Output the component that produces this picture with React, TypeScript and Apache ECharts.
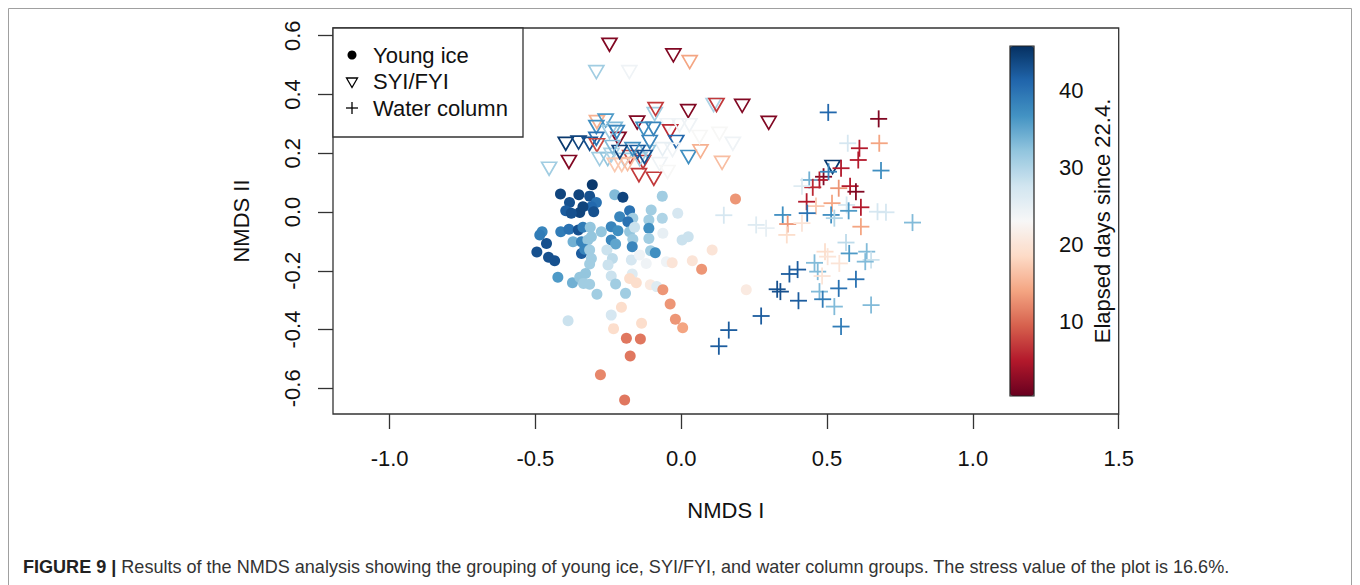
import { useEffect, useRef } from "react";
import * as echarts from "echarts";

const FONT = '"Liberation Sans", Arial, Helvetica, sans-serif';

// Axis ticks (NMDS I / NMDS II) and colour-bar ticks
const xTicks = [-1.0, -0.5, 0.0, 0.5, 1.0, 1.5];
const yTicks = [-0.6, -0.4, -0.2, 0.0, 0.2, 0.4, 0.6];
const dayTicks = [10, 20, 30, 40];
const dayRange = [0.4, 45.7];

// Visible plotting window of the ordination (data units)
const xWindow = [-1.194, 1.5];
const yWindow = [-0.6876, 0.6263];

// RdBu palette, low (red) to high (blue) elapsed days
const palette = [
  "#67001f", "#b2182b", "#d6604d", "#f4a582", "#fddbc7", "#f7f7f7",
  "#d1e5f0", "#92c5de", "#4393c3", "#2166ac", "#053061",
];

const groupNames = ["Young ice", "SYI/FYI", "Water column"];

// [NMDS I, NMDS II, elapsed days]
const youngIce: number[][] = [
  [-0.305, 0.093, 45], [-0.414, 0.061, 44], [-0.351, 0.059, 44], [-0.314, 0.054, 43],
  [-0.228, 0.059, 33], [-0.200, 0.050, 44], [-0.065, 0.054, 31], [-0.383, 0.032, 43],
  [-0.291, 0.032, 40], [-0.396, 0.004, 42], [-0.348, -0.002, 44], [-0.308, 0.018, 41],
  [-0.300, 0.001, 43], [-0.337, 0.018, 44], [-0.377, -0.004, 43], [-0.211, -0.016, 38],
  [-0.177, 0.004, 40], [-0.166, -0.021, 31], [-0.103, 0.007, 31], [-0.065, -0.021, 30],
  [-0.012, -0.004, 27], [-0.183, -0.033, 40], [-0.111, -0.027, 31], [-0.111, -0.055, 37],
  [-0.477, -0.067, 38], [-0.413, -0.067, 39], [-0.385, -0.059, 40], [-0.353, -0.061, 43],
  [-0.337, -0.052, 39], [-0.312, -0.052, 32], [-0.274, -0.067, 32], [-0.240, -0.050, 38],
  [-0.217, -0.064, 37], [-0.177, -0.067, 32], [-0.160, -0.052, 28], [-0.063, -0.072, 25],
  [-0.485, -0.078, 39], [-0.462, -0.107, 43], [-0.371, -0.101, 34], [-0.342, -0.101, 38],
  [-0.320, -0.095, 32], [-0.308, -0.084, 32], [-0.240, -0.095, 38], [-0.225, -0.109, 35],
  [-0.166, -0.093, 31], [-0.168, -0.118, 38], [-0.111, -0.090, 31], [0.003, -0.095, 28],
  [0.024, -0.084, 28], [-0.495, -0.136, 43], [-0.455, -0.154, 43], [-0.434, -0.166, 43],
  [-0.342, -0.141, 42], [-0.331, -0.127, 38], [-0.314, -0.129, 31], [-0.308, -0.158, 31],
  [-0.314, -0.177, 31], [-0.255, -0.129, 28], [-0.236, -0.158, 29], [-0.251, -0.180, 28],
  [-0.171, -0.163, 27], [-0.143, -0.146, 24], [-0.120, -0.175, 24], [-0.105, -0.132, 31],
  [-0.089, -0.139, 37], [-0.051, -0.169, 24], [-0.031, -0.173, 20], [0.038, -0.166, 20],
  [0.070, -0.195, 13], [0.106, -0.129, 20], [-0.423, -0.222, 36], [-0.373, -0.241, 34],
  [-0.348, -0.222, 32], [-0.328, -0.209, 32], [-0.335, -0.243, 31], [-0.314, -0.246, 31],
  [-0.289, -0.280, 31], [-0.240, -0.218, 28], [-0.225, -0.245, 31], [-0.191, -0.277, 31],
  [-0.168, -0.211, 26], [-0.177, -0.226, 19], [-0.154, -0.241, 19], [-0.106, -0.248, 21],
  [-0.084, -0.254, 26], [-0.063, -0.265, 13], [-0.038, -0.313, 13], [-0.020, -0.365, 13],
  [0.005, -0.394, 14], [0.223, -0.265, 21], [0.186, 0.044, 13], [-0.388, -0.370, 28],
  [-0.240, -0.351, 27], [-0.205, -0.324, 19], [-0.232, -0.397, 19], [-0.136, -0.379, 19],
  [-0.188, -0.430, 11], [-0.140, -0.432, 11], [-0.175, -0.490, 11], [-0.277, -0.554, 12],
  [-0.194, -0.640, 11],
];

const syiFyi: number[][] = [
  [-0.246, 0.576, 2], [-0.027, 0.540, 2], [0.029, 0.517, 14], [-0.291, 0.483, 31],
  [-0.178, 0.483, 24], [0.111, 0.371, 30], [0.121, 0.371, 7], [0.209, 0.368, 2],
  [0.300, 0.310, 2], [-0.091, 0.340, 31], [-0.088, 0.357, 7], [0.024, 0.350, 2],
  [-0.151, 0.311, 2], [-0.129, 0.290, 37], [-0.095, 0.290, 38], [-0.046, 0.302, 24],
  [-0.038, 0.281, 6], [-0.017, 0.245, 41], [0.025, 0.194, 37], [0.066, 0.213, 15],
  [0.140, 0.174, 16], [-0.289, 0.313, 15], [-0.259, 0.318, 36], [-0.291, 0.296, 37],
  [-0.396, 0.239, 45], [-0.352, 0.243, 44], [-0.314, 0.239, 43], [-0.291, 0.256, 40],
  [-0.289, 0.234, 8], [-0.215, 0.256, 2], [-0.385, 0.177, 2], [-0.453, 0.154, 31],
  [-0.145, 0.132, 7], [-0.094, 0.120, 7], [-0.175, 0.194, 8], [-0.131, 0.177, 7],
  [0.028, 0.302, 24], [0.063, 0.262, 23], [0.131, 0.273, 23], [0.177, 0.239, 24],
  [-0.006, 0.302, 24], [-0.030, 0.218, 24], [-0.064, 0.221, 25], [-0.074, 0.170, 24],
  [-0.047, 0.143, 23], [0.519, 0.160, 45], [-0.246, 0.279, 31], [-0.280, 0.187, 31],
  [-0.252, 0.187, 32], [-0.239, 0.201, 30], [-0.194, 0.184, 31], [-0.143, 0.187, 31],
  [-0.115, 0.211, 32], [-0.150, 0.211, 42], [-0.126, 0.194, 43], [-0.228, 0.167, 17],
  [-0.204, 0.167, 17], [-0.184, 0.170, 16], [-0.167, 0.221, 37], [-0.211, 0.211, 44],
  [-0.108, 0.245, 38], [-0.236, 0.228, 33], [-0.228, 0.290, 33], [-0.221, 0.279, 38],
];

const waterColumn: number[][] = [
  [0.504, 0.339, 41], [0.677, 0.317, 2], [0.679, 0.234, 14], [0.571, 0.234, 27],
  [0.611, 0.217, 5], [0.607, 0.177, 5], [0.685, 0.141, 37], [0.548, 0.149, 5],
  [0.488, 0.120, 2], [0.474, 0.109, 5], [0.505, 0.137, 38], [0.439, 0.109, 34],
  [0.451, 0.084, 6], [0.414, 0.088, 26], [0.540, 0.081, 13], [0.579, 0.088, 5],
  [0.599, 0.069, 2], [0.430, 0.035, 5], [0.462, 0.020, 17], [0.517, 0.030, 14],
  [0.567, 0.024, 27], [0.616, 0.016, 5], [0.432, -0.004, 40], [0.348, -0.010, 37],
  [0.514, -0.010, 37], [0.574, 0.004, 36], [0.673, 0.001, 27], [0.702, -0.001, 27],
  [0.793, -0.036, 33], [0.146, -0.011, 27], [0.257, -0.044, 26], [0.291, -0.055, 25],
  [0.365, -0.041, 13], [0.362, -0.078, 19], [0.414, -0.038, 20], [0.525, -0.021, 30],
  [0.616, -0.050, 14], [0.565, -0.104, 29], [0.493, -0.135, 19], [0.502, -0.152, 20],
  [0.576, -0.141, 36], [0.636, -0.135, 33], [0.651, -0.163, 28], [0.631, -0.169, 33],
  [0.457, -0.173, 33], [0.542, -0.175, 20], [0.468, -0.203, 33], [0.483, -0.218, 20],
  [0.399, -0.196, 42], [0.371, -0.211, 42], [0.599, -0.229, 40], [0.329, -0.263, 43],
  [0.340, -0.271, 43], [0.402, -0.302, 42], [0.474, -0.271, 33], [0.485, -0.297, 39],
  [0.540, -0.260, 40], [0.525, -0.322, 33], [0.651, -0.317, 33], [0.548, -0.390, 39],
  [0.274, -0.354, 42], [0.163, -0.402, 42], [0.129, -0.457, 42],
];

const captionLead = "FIGURE 9 | ";
const captionBody =
  "Results of the NMDS analysis showing the grouping of young ice, SYI/FYI, and water column groups. The stress value of the plot is 16.6%.";

// Plot frame in page pixels
const BOX = { left: 333, top: 28, right: 1118.7, bottom: 414 };

function measure(text: string, font: string): number {
  const ctx = document.createElement("canvas").getContext("2d");
  if (!ctx) return text.length * 8;
  ctx.font = font;
  return ctx.measureText(text).width;
}

export default function App() {
  const ref = useRef<HTMLDivElement>(null);

  useEffect(() => {
    if (!ref.current) return;
    const chart = echarts.init(ref.current, undefined, { renderer: "svg" });

    const xs = (BOX.right - BOX.left) / (xWindow[1] - xWindow[0]);
    const ys = (BOX.bottom - BOX.top) / (yWindow[1] - yWindow[0]);
    const xPix = (v: number) => BOX.left + (v - xWindow[0]) * xs;
    const yPix = (v: number) => BOX.top + (yWindow[1] - v) * ys;

    // colour bar geometry
    const cbTop = 46;
    const cbBottom = 396;
    const cbLeft = 1010;
    const cbWidth = 24;
    const dPix = (d: number) =>
      cbBottom - ((d - dayRange[0]) / (dayRange[1] - dayRange[0])) * (cbBottom - cbTop);

    const capFontSize = 18;
    const leadW = measure(captionLead, `bold ${capFontSize}px "Liberation Sans"`);
    const bodyW = measure(captionBody, `${capFontSize}px "Liberation Sans"`);
    const capScale = (1230 - 23) / (leadW + bodyW);

    const tickStyle = { length: 15, lineStyle: { color: "#333", width: 1.3 } };
    const labelStyle = { fontSize: 22, color: "#111", fontFamily: FONT };
    const fmt = (v: number) => (Math.abs(v) < 1e-9 ? "0.0" : v.toFixed(1));

    const option: any = {
      animation: false,
      backgroundColor: "#fff",
      textStyle: { fontFamily: FONT },
      grid: [
        {
          left: BOX.left, top: BOX.top,
          width: BOX.right - BOX.left, height: BOX.bottom - BOX.top,
          show: true, borderColor: "#333", borderWidth: 1.3,
          backgroundColor: "transparent",
        },
        {
          left: xPix(xTicks[0]), top: BOX.top,
          width: xPix(xTicks[xTicks.length - 1]) - xPix(xTicks[0]),
          height: BOX.bottom - BOX.top,
        },
        {
          left: BOX.left, top: yPix(yTicks[yTicks.length - 1]),
          width: BOX.right - BOX.left,
          height: yPix(yTicks[0]) - yPix(yTicks[yTicks.length - 1]),
        },
        {
          left: cbLeft, top: dPix(dayTicks[dayTicks.length - 1]),
          width: cbWidth,
          height: dPix(dayTicks[0]) - dPix(dayTicks[dayTicks.length - 1]),
        },
      ],
      xAxis: [
        {
          type: "value", gridIndex: 0, min: xWindow[0], max: xWindow[1],
          axisLine: { show: false }, axisTick: { show: false },
          axisLabel: { show: false }, splitLine: { show: false },
          name: "NMDS I", nameLocation: "middle", nameGap: 85,
          nameTextStyle: { fontSize: 22, color: "#111", fontFamily: FONT },
        },
        {
          type: "value", gridIndex: 1, min: xTicks[0], max: xTicks[xTicks.length - 1],
          interval: xTicks[1] - xTicks[0], position: "bottom",
          axisLine: { show: false }, axisTick: tickStyle,
          axisLabel: { ...labelStyle, margin: 33, formatter: fmt },
          splitLine: { show: false },
        },
        {
          type: "value", gridIndex: 2, show: false, min: 0, max: 1,
        },
        {
          type: "value", gridIndex: 3, show: false, min: 0, max: 1,
        },
      ],
      yAxis: [
        {
          type: "value", gridIndex: 0, min: yWindow[0], max: yWindow[1],
          axisLine: { show: false }, axisTick: { show: false },
          axisLabel: { show: false }, splitLine: { show: false },
          name: "NMDS II", nameLocation: "middle", nameGap: 81, nameRotate: 90,
          nameTextStyle: { fontSize: 22, color: "#111", fontFamily: FONT },
        },
        {
          type: "value", gridIndex: 1, show: false, min: 0, max: 1,
        },
        {
          type: "value", gridIndex: 2, min: yTicks[0], max: yTicks[yTicks.length - 1],
          interval: yTicks[1] - yTicks[0], position: "left",
          axisLine: { show: false }, axisTick: tickStyle,
          axisLabel: { ...labelStyle, rotate: 90, margin: 30, formatter: fmt },
          splitLine: { show: false },
        },
        {
          type: "value", gridIndex: 3, min: dayTicks[0], max: dayTicks[dayTicks.length - 1],
          interval: dayTicks[1] - dayTicks[0], position: "right",
          axisLine: { show: false }, axisTick: { ...tickStyle, length: 14 },
          axisLabel: { ...labelStyle, margin: 25, formatter: (v: number) => String(v) },
          splitLine: { show: false },
        },
      ],
      visualMap: {
        type: "continuous",
        min: dayRange[0], max: dayRange[1],
        dimension: 2, seriesIndex: [0, 1, 2],
        inRange: { color: palette },
        left: cbLeft, top: cbTop,
        itemWidth: cbWidth, itemHeight: cbBottom - cbTop,
        padding: 0, calculable: false, hoverLink: false,
        text: null, showLabel: false,
        textStyle: { color: "transparent" },
      },
      series: [
        {
          name: groupNames[0], type: "scatter", xAxisIndex: 0, yAxisIndex: 0,
          data: youngIce, symbol: "circle", symbolSize: 11,
          itemStyle: { opacity: 1 },
          silent: true,
        },
        {
          name: groupNames[1], type: "custom", xAxisIndex: 0, yAxisIndex: 0,
          data: syiFyi, encode: { x: 0, y: 1 }, silent: true,
          renderItem: (_p: any, api: any) => {
            const [cx, cy] = api.coord([api.value(0), api.value(1)]);
            const c = api.visual("color");
            return {
              type: "polygon",
              shape: { points: [[cx - 7.5, cy - 4.5], [cx + 7.5, cy - 4.5], [cx, cy + 8.5]] },
              style: { fill: "none", stroke: c, lineWidth: 1.7 },
            };
          },
        },
        {
          name: groupNames[2], type: "custom", xAxisIndex: 0, yAxisIndex: 0,
          data: waterColumn, encode: { x: 0, y: 1 }, silent: true,
          renderItem: (_p: any, api: any) => {
            const [cx, cy] = api.coord([api.value(0), api.value(1)]);
            const c = api.visual("color");
            const a = 8.5;
            const st = { stroke: c, lineWidth: 1.8 };
            return {
              type: "group",
              children: [
                { type: "line", shape: { x1: cx - a, y1: cy, x2: cx + a, y2: cy }, style: st },
                { type: "line", shape: { x1: cx, y1: cy - a, x2: cx, y2: cy + a }, style: st },
              ],
            };
          },
        },
      ],
      graphic: [
        // outer figure frame
        {
          type: "rect", silent: true, z: -10,
          shape: { x: 8.5, y: 8.5, width: 1343, height: 620 },
          style: { fill: "none", stroke: "#a0a0a0", lineWidth: 1 },
        },
        // colour bar outline
        {
          type: "rect", silent: true, z: 10,
          shape: { x: cbLeft, y: cbTop, width: cbWidth, height: cbBottom - cbTop },
          style: { fill: "none", stroke: "#222", lineWidth: 1.2 },
        },
        {
          type: "text", silent: true, x: 1102, y: (BOX.top + BOX.bottom) / 2,
          rotation: Math.PI / 2,
          style: {
            text: "Elapsed days since 22.4.", fontSize: 22, fill: "#111",
            fontFamily: FONT, align: "center", verticalAlign: "middle",
          },
        },
        // legend
        {
          type: "group", silent: true, z: 20,
          children: [
            {
              type: "rect", shape: { x: BOX.left, y: BOX.top, width: 190, height: 109 },
              style: { fill: "#fff", stroke: "#333", lineWidth: 1.3 },
            },
            { type: "circle", shape: { cx: 352, cy: 55, r: 4.5 }, style: { fill: "#000" } },
            {
              type: "polygon",
              shape: { points: [[346.5, 78], [357.5, 78], [352, 87.5]] },
              style: { fill: "none", stroke: "#000", lineWidth: 1.3 },
            },
            { type: "line", shape: { x1: 346, y1: 108, x2: 358, y2: 108 }, style: { stroke: "#000", lineWidth: 1.3 } },
            { type: "line", shape: { x1: 352, y1: 102, x2: 352, y2: 114 }, style: { stroke: "#000", lineWidth: 1.3 } },
            ...groupNames.map((t, i) => ({
              type: "text", x: 373, y: 55 + i * 26.5,
              style: { text: t, fontSize: 22, fill: "#111", fontFamily: FONT, verticalAlign: "middle" },
            })),
          ],
        },
        // caption
        {
          type: "text", silent: true, x: 23, y: 567, scaleX: capScale,
          style: {
            text: `{a|${captionLead}}{b|${captionBody}}`,
            verticalAlign: "middle",
            rich: {
              a: { fontSize: capFontSize, fontWeight: "bold", fill: "#222", fontFamily: "Liberation Sans" },
              b: { fontSize: capFontSize, fill: "#333", fontFamily: "Liberation Sans" },
            },
          },
        },
      ],
    };

    chart.setOption(option);
    return () => chart.dispose();
  }, []);

  return (
    <div
      ref={ref}
      style={{ position: "fixed", left: 0, top: 0, width: 1360, height: 585, background: "#fff" }}
    />
  );
}
